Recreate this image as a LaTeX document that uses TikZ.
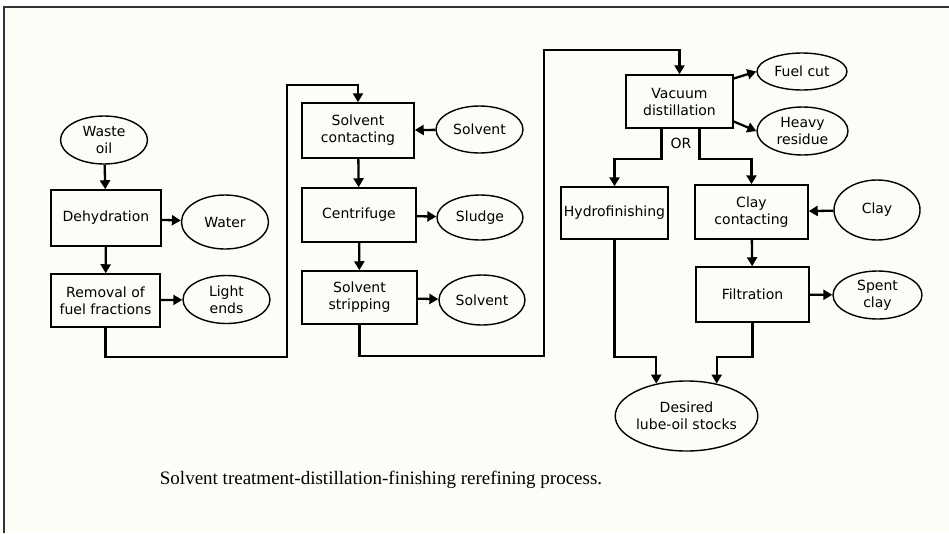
\documentclass[tikz,border=0pt]{standalone}
\usepackage{fontspec}
\setsansfont{DejaVu Sans}
\newfontfamily\captionfont{Liberation Serif}
\usetikzlibrary{positioning}
\usetikzlibrary{shapes.geometric,arrows.meta}
\definecolor{paper}{HTML}{FDFDF7}
\definecolor{frame}{HTML}{333333}

\begin{document}
\begin{tikzpicture}[x=1pt,y=-1pt,
 proc/.style={draw,line width=1.5pt,minimum width=111pt,minimum height=54pt,align=center,inner sep=2pt,font=\sffamily\fontsize{14}{17}\selectfont},
 stream/.style={draw,ellipse,line width=1.4pt,minimum width=87pt,minimum height=48pt,align=center,inner sep=0pt,font=\sffamily\fontsize{14}{17}\selectfont},
 flow/.style={line width=2.3pt,-{Triangle[length=9pt,width=10pt]}}]
 \useasboundingbox (0,0) rectangle (949,533);
 \fill[paper] (4,7) rectangle (949,533);
 \draw[frame,line width=2pt] (4,533) -- (4,7) -- (949,7);
 \node[stream] (waste) at (104,140) {Waste\\oil};
 \node[proc,minimum width=110pt,minimum height=56pt] (dehyd) at (106,218) {Dehydration};
 \node[stream,minimum height=54pt] (water) at (225,222) {Water};
 \node[proc,minimum width=109pt,minimum height=53pt] (removal) at (105.5,300.5) {Removal of\\fuel fractions};
 \node[stream] (light) at (226.5,299.5) {Light\\ends};
 \node[proc,minimum width=112pt,minimum height=55pt] (contact) at (358,130.5) {Solvent\\contacting};
 \node[stream,minimum height=47pt] (solventin) at (479.5,129.5) {Solvent};
 \node[proc,minimum width=114pt] (centri) at (359,215) {Centrifuge};
 \node[stream,minimum width=86pt,minimum height=45pt] (sludge) at (480,217.5) {Sludge};
 \node[proc,minimum width=115pt,minimum height=53pt] (strip) at (359.5,297.5) {Solvent\\stripping};
 \node[stream,minimum width=86pt,minimum height=50pt] (solventout) at (482,300) {Solvent};
 \node[proc,minimum width=107pt,minimum height=53pt] (vacuum) at (679.5,101.5) {Vacuum\\distillation};
 \node[stream,minimum width=90pt,minimum height=37pt] (fuel) at (802,71.5) {Fuel cut};
 \node[stream,minimum width=91pt] (heavy) at (802.5,131) {Heavy\\residue};
 \node[font=\sffamily\fontsize{14}{17}\selectfont] (or) at (681,143) {OR};
 \node[proc,minimum width=107pt,minimum height=52pt] (hydro) at (614.5,213) {Hydrofinishing};
 \node[proc,minimum width=113pt] (claycon) at (751.5,212) {Clay\\contacting};
 \node[stream,minimum width=86pt,minimum height=60pt] (clay) at (877,210) {Clay};
 \node[proc,minimum width=113pt,minimum height=55pt] (filter) at (752.5,294.5) {Filtration};
 \node[stream,minimum width=89pt] (spent) at (877.5,295) {Spent\\clay};
 \node[stream,minimum width=119pt,minimum height=70pt] (lube) at (686.5,416) {Desired\\lube-oil stocks};
 \node[font=\captionfont\fontsize{19}{21}\selectfont] (caption) at (381,480) {Solvent treatment-distillation-finishing rerefining process.};
 \draw[flow] (waste) -- (dehyd);
 \draw[flow] (dehyd) -- (water);
 \draw[flow] (dehyd) -- (removal);
 \draw[flow] (removal) -- (light);
 \draw[flow] (removal.south) |- (287,357) -- (287,85) -| (contact.north);
 \draw[flow] (solventin) -- (contact);
 \draw[flow] (contact) -- (centri);
 \draw[flow] (centri) -- (sludge);
 \draw[flow] (centri) -- (strip);
 \draw[flow] (strip) -- (solventout);
 \draw[flow] (strip.south) |- (544,356) -- (544,50) -| (vacuum.north);
 \draw[flow] ([yshift=23pt]vacuum.east) -- (fuel.west);
 \draw[flow] ([yshift=-20pt]vacuum.east) -- (heavy.west);
 \draw[flow] ([xshift=-18pt]vacuum.south) -- ++(0,30) -| (hydro.north);
 \draw[flow] ([xshift=20pt]vacuum.south) -- ++(0,30) -| (claycon.north);
 \draw[flow] (clay) -- (claycon);
 \draw[flow] (claycon) -- (filter);
 \draw[flow] (filter) -- (spent);
 \draw[flow] (hydro.south) -- ++(0,117) -| (lube.133);
 \draw[flow] (filter.south) -- ++(0,34) -| (lube.47);
\end{tikzpicture}
\end{document}
